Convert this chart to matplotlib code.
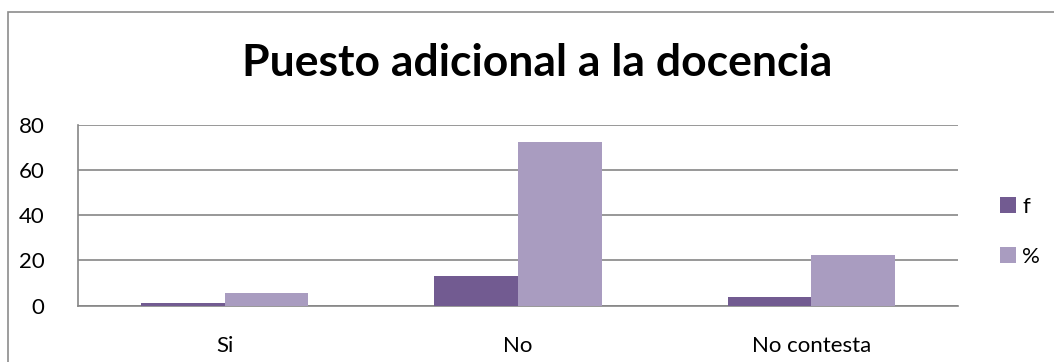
import numpy as np
import matplotlib
matplotlib.use('Agg')
import matplotlib.pyplot as plt
from matplotlib.patches import Rectangle

# data
categories = ['Si', 'No', 'No contesta']
f_values = [1, 13, 4]
pct_values = [5.56, 72.22, 22.22]
series_labels = ['f', '%']
y_ticks = [0, 20, 40, 60, 80]

plt.rcParams['font.family'] = ['Lato', 'DejaVu Sans']

fig = plt.figure(figsize=(10.54, 3.62), dpi=100)
# outer chart border
fig.patches.append(Rectangle((8 / 1054, -0.05), 1.1, 1 - 12 / 362 + 0.05,
                             transform=fig.transFigure, fill=False,
                             edgecolor='#8c8c8c', linewidth=1.2))

ax = fig.add_axes([78 / 1054, 56.3 / 362, 880 / 1054, 0.5])

x = np.arange(len(categories))
w = 1 / 3.5
ax.bar(x - w / 2, f_values, w, color='#725B91', label=series_labels[0], zorder=3)
ax.bar(x + w / 2, pct_values, w, color='#A99CC0', label=series_labels[1], zorder=3)

ax.set_xlim(-0.5, 2.5)
ax.set_ylim(0, 80)
ax.set_yticks(y_ticks)
ax.set_xticks(x)
ax.set_xticklabels(categories)
ax.grid(axis='y', color='#868686', linewidth=1.2, zorder=0)
for s in ['top', 'right']:
    ax.spines[s].set_visible(False)
ax.spines['left'].set_color('#868686')
ax.spines['bottom'].set_color('#868686')
ax.spines['left'].set_linewidth(1.2)
ax.spines['bottom'].set_linewidth(1.2)
ax.tick_params(axis='both', length=0, labelsize=16, colors='black')
ax.tick_params(axis='y', pad=24)
ax.tick_params(axis='x', pad=22)

fig.text(537 / 1054, 1 - 63 / 362, 'Puesto adicional a la docencia',
         ha='center', va='center', fontsize=32, fontweight='bold')

ax.legend(loc='upper left', bbox_to_anchor=(1000 / 1054, 1 - 197 / 362),
          bbox_transform=fig.transFigure, frameon=False, fontsize=16,
          handlelength=0.7, handleheight=0.7, handletextpad=0.3,
          labelspacing=1.35, borderpad=0, borderaxespad=0)

fig.savefig('out.png', dpi=100)
